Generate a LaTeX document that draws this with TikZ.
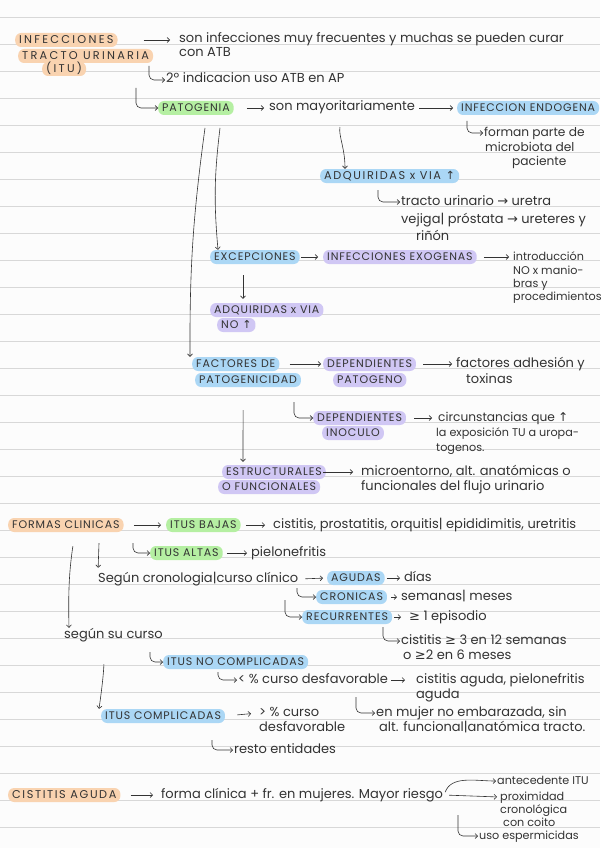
\documentclass[tikz,border=0pt]{standalone}
\usepackage{fontspec}
\setmainfont{Poppins}
\newfontfamily\symfont{DejaVu Sans}
\usetikzlibrary{positioning,arrows.meta}

\definecolor{paper}{HTML}{FCFCFC}
\definecolor{ruling}{HTML}{D8D8D8}
\definecolor{ink}{HTML}{333333}
\definecolor{hlorange}{HTML}{F9D3B0}
\definecolor{hlgreen}{HTML}{B5EFA2}
\definecolor{hlblue}{HTML}{ABD7F5}
\definecolor{hlpurple}{HTML}{D0C7F4}

\newcommand{\uparr}{{\symfont ↑}}
\newcommand{\toarr}{{\symfont →}}
\newcommand{\gearr}{{\symfont ≥}}

\tikzset{
  note/.style={anchor=west, inner sep=1pt, text=ink, text height=9pt, text depth=3pt,
    font=\fontsize{13}{15}\selectfont},
  mnote/.style={note, font=\fontsize{12.2}{14}\selectfont},
  snote/.style={note, font=\fontsize{11.2}{13}\selectfont},
  caps/.style={anchor=west, text=ink, rounded corners=6pt, inner xsep=4pt, inner ysep=3pt,
    text height=7.5pt, text depth=0.5pt,
    font=\fontsize{11}{13}\selectfont\addfontfeatures{LetterSpace=8}},
  wide/.style={font=\fontsize{11.3}{13}\selectfont\addfontfeatures{LetterSpace=20}},
  semiwide/.style={font=\fontsize{11.3}{13}\selectfont\addfontfeatures{LetterSpace=14}},
  hlo/.style={caps, fill=hlorange},
  hlg/.style={caps, fill=hlgreen},
  hlb/.style={caps, fill=hlblue},
  hlp/.style={caps, fill=hlpurple},
  arr/.style={draw=ink, line width=0.6pt, -{Straight Barb[length=2.5pt,width=5pt]}},
  hook/.style={arr, rounded corners=5pt},
}

\begin{document}
\begin{tikzpicture}[x=1pt, y=-1pt]
  \useasboundingbox (0,0) rectangle (600,848);
  \fill[paper] (0,0) rectangle (600,848);
  \foreach \k in {0,...,30}
    \draw[ruling, line width=0.8pt] (0,{17.3+27*\k}) -- (600,{17.3+27*\k});

  % infecciones tracto urinario
  \node[hlo, wide] (infec) at (15,40) {INFECCIONES};
  \node[hlo, wide] (tracto) at (18,56) {TRACTO URINARIA};
  \node[hlo, wide] (itu) at (42,69) {(ITU)};
  \node[note] (son1) at (178,40) {son infecciones muy frecuentes y muchas se pueden curar};
  \node[note] (son2) at (178,54) {con ATB};
  \node[note] (indic) at (165,80) {2º indicacion uso ATB en AP};

  \node[hlg] (pato) at (158,108) {PATOGENIA};
  \node[note] (mayor) at (268,108) {son mayoritariamente};
  \node[hlb] (endo) at (457,108) {INFECCION ENDOGENA};
  \node[mnote] (forman) at (483,133) {forman parte de};
  \node[mnote] (micro) at (484,148) {microbiota del};
  \node[mnote] (pacien) at (511,162) {paciente};

  \node[hlb, semiwide] (adq) at (320,176) {ADQUIRIDAS x VIA \uparr};
  \node[note] (tracto2) at (400,202) {tracto urinario \toarr\ uretra};
  \node[note] (vejiga) at (400,220) {vejiga| próstata \toarr\ ureteres y};
  \node[note] (rinon) at (415,237) {riñón};

  \node[hlb] (excep) at (210,257) {EXCEPCIONES};
  \node[hlp] (exog) at (323,257) {INFECCIONES EXOGENAS};
  \node[snote] (intro) at (512,257) {introducción};
  \node[snote] (nomano) at (512,271) {NO x manio-};
  \node[snote] (bras) at (512,284) {bras y};
  \node[snote] (proced) at (512,297) {procedimientos};
  \node[hlp] (adq2) at (210,310) {ADQUIRIDAS x VIA};
  \node[hlp] (no) at (217,325) {NO \uparr};

  % factores de patogenicidad
  \node[hlb] (fact) at (192,364) {FACTORES DE};
  \node[hlb] (patog) at (195,380) {PATOGENICIDAD};
  \node[hlp] (dep1) at (323,364) {DEPENDIENTES};
  \node[hlp] (patogeno) at (333,380) {PATOGENO};
  \node[note] (adhes) at (455,364) {factores adhesión y};
  \node[note] (toxin) at (465,380) {toxinas};
  \node[hlp] (dep2) at (313,418) {DEPENDIENTES};
  \node[hlp] (inoc) at (322,433) {INOCULO};
  \node[mnote] (circ) at (437,418) {circunstancias que \uparr};
  \node[snote] (expo) at (435,433) {la exposición TU a uropa-};
  \node[snote] (togen) at (435,448) {togenos.};
  \node[hlp] (estr) at (222,472) {ESTRUCTURALES};
  \node[hlp] (ofunc) at (218,487) {O FUNCIONALES};
  \node[note] (micro2) at (360,472) {microentorno, alt. anatómicas o};
  \node[note] (funcio) at (360,487) {funcionales del flujo urinario};

  % formas clinicas
  \node[hlo] (formas) at (8,525) {FORMAS CLINICAS};
  \node[hlg] (bajas) at (166,525) {ITUS BAJAS};
  \node[note] (cist) at (272,525) {cistitis, prostatitis, orquitis| epididimitis, uretritis};
  \node[hlg] (altas) at (150,553) {ITUS ALTAS};
  \node[note] (pielo) at (250,553) {pielonefritis};
  \node[note] (segun) at (97,579) {Según cronologia|curso clínico};
  \node[hlb] (agudas) at (327,578) {AGUDAS};
  \node[note] (dias) at (403,578) {días};
  \node[hlb] (cron) at (316,597) {CRONICAS};
  \node[note] (sem) at (400,597) {semanas| meses};
  \node[hlb] (recur) at (302,617) {RECURRENTES};
  \node[note] (epis) at (408,617) {\gearr\ 1 episodio};
  \node[note] (cist3) at (400,641) {cistitis \gearr\ 3 en 12 semanas};
  \node[note] (o2) at (402,656) {o \gearr 2 en 6 meses};
  \node[note] (sucurso) at (63,635) {según su curso};
  \node[hlb] (nocomp) at (163,662) {ITUS NO COMPLICADAS};
  \node[note] (menos) at (237,680) {< \% curso desfavorable};
  \node[note] (cistag) at (415,680) {cistitis aguda, pielonefritis};
  \node[note] (aguda) at (415,695) {aguda};
  \node[hlb] (comp) at (101,716) {ITUS COMPLICADAS};
  \node[note] (mas) at (258,713) {> \% curso};
  \node[note] (desf) at (258,728) {desfavorable};
  \node[note] (mujer) at (375,713) {en mujer no embarazada, sin};
  \node[note] (alt) at (378,728) {alt. funcional|anatómica tracto.};
  \node[note] (resto) at (233,750) {resto entidades};

  % cistitis aguda
  \node[hlo, semiwide] (cista) at (8,795) {CISTITIS AGUDA};
  \node[note] (forma) at (160,795) {forma clínica + fr. en mujeres. Mayor riesgo};
  \node[snote] (ante) at (496,781) {antecedente ITU};
  \node[snote] (prox) at (499,797) {proximidad};
  \node[snote] (crono) at (499,810) {cronológica};
  \node[snote] (coito) at (502,823) {con coito};
  \node[snote] (esperm) at (478,836) {uso espermicidas};

  % hook starts
  \coordinate (h1) at (149,66);
  \coordinate (h2) at (136,88);
  \coordinate (h3) at (467,121);
  \coordinate (h4) at (378,190);
  \coordinate (pl) at (205,128);
  \coordinate (pr) at (220,128);
  \coordinate (h5) at (294,402);
  \coordinate (h6) at (133,543);
  \coordinate (h7) at (297,588);
  \coordinate (h8) at (285,600);
  \coordinate (h9) at (383,627);
  \coordinate (h10) at (150,652);
  \coordinate (h11) at (218,672);
  \coordinate (h12) at (356,697);
  \coordinate (h13) at (212,740);
  \coordinate (h14) at (458,815);

  \draw[arr, shorten <=26pt, shorten >=8pt] (infec.east) -- (son1.west);
  \draw[hook] (h1) |- (indic.west);
  \draw[hook] (h2) |- (pato.west);
  \draw[arr, shorten <=13pt, shorten >=4pt] (pato.east) -- (mayor.west);
  \draw[arr, shorten <=3pt, shorten >=4pt] (mayor.east) -- (endo.west);
  \draw[hook] (h3) |- (forman.west);
  \draw[arr, shorten <=12pt] (mayor.south) to[out=-100, in=90] ([xshift=25pt]adq.north west);
  \draw[hook] (h4) |- (tracto2.west);
  \draw[arr] (pl) to[bend right=4] ([xshift=-2pt]fact.north west);
  \draw[arr] (pr) to[bend right=6] ([xshift=8pt]excep.north west);
  \draw[arr, shorten <=1pt, shorten >=5pt] (excep.east) -- (exog.west);
  \draw[arr, shorten <=7pt, shorten >=3pt] (exog.east) -- (intro.west);
  \draw[arr, shorten >=4pt] ([xshift=33pt, yshift=-11pt]excep.south west) -- ([xshift=33pt]adq2.north west);
  \draw[arr, shorten <=10pt, shorten >=2pt] (fact.east) -- (dep1.west);
  \draw[arr, shorten <=7pt, shorten >=3pt] (dep1.east) -- (adhes.west);
  \draw[hook] (h5) |- (dep2.west);
  \draw[arr, shorten <=8pt, shorten >=5pt] (dep2.east) -- (circ.west);
  \draw[arr, shorten >=3pt] ([xshift=-5pt, yshift=-23pt]patog.south) -- ([xshift=21pt]estr.north west);
  \draw[arr, shorten <=3pt, shorten >=7pt] (ofunc.east |- estr.east) -- (micro2.west);

  \draw[arr, shorten <=10pt, shorten >=5pt] (formas.east) -- (bajas.west);
  \draw[arr, shorten <=5pt, shorten >=7pt] (bajas.east) -- (cist.west);
  \draw[hook] (h6) |- (altas.west);
  \draw[arr, shorten <=4pt, shorten >=3pt] (altas.east) -- (pielo.west);
  \draw[arr, shorten >=4pt] ([xshift=91pt, yshift=-11pt]formas.south west) -- ([xshift=1pt]segun.north west);
  \draw[arr, shorten <=6pt, shorten >=4pt] (segun.east) -- (agudas.west);
  \draw[arr, shorten <=2pt, shorten >=3pt] (agudas.east) -- (dias.west);
  \draw[hook] (h7) |- (cron.west);
  \draw[arr, shorten <=4pt, shorten >=3pt] (cron.east) -- (sem.west);
  \draw[hook] (h8) |- (recur.west);
  \draw[arr, shorten <=2pt, shorten >=7pt] (recur.east) -- (epis.west);
  \draw[hook] (h9) |- (cist3.west);
  \draw[arr, shorten <=14pt] ([xshift=67pt]formas.south west) to[bend right=5] ([xshift=6pt]sucurso.north west);
  \draw[hook] (h10) |- (nocomp.west);
  \draw[hook] (h11) |- (menos.west);
  \draw[arr, shorten <=2pt, shorten >=10pt] (menos.east) -- (cistag.west);
  \draw[arr, shorten <=22pt] ([xshift=41pt]sucurso.south west) to[bend left=4] ([xshift=-2pt]comp.north west);
  \draw[arr, shorten <=12pt, shorten >=7pt] (comp.east) -- (mas.west);
  \draw[hook] (h12) |- (mujer.west);
  \draw[hook] (h13) |- (resto.west);

  \draw[arr, shorten <=10pt, shorten >=7pt] (cista.east) -- (forma.west);
  \draw[arr, shorten <=3pt] (forma.east) to[out=70, in=180] (ante.west);
  \draw[arr, shorten <=5pt, shorten >=2pt] (forma.east) -- (prox.west);
  \draw[hook] (h14) |- (esperm.west);
\end{tikzpicture}
\end{document}
